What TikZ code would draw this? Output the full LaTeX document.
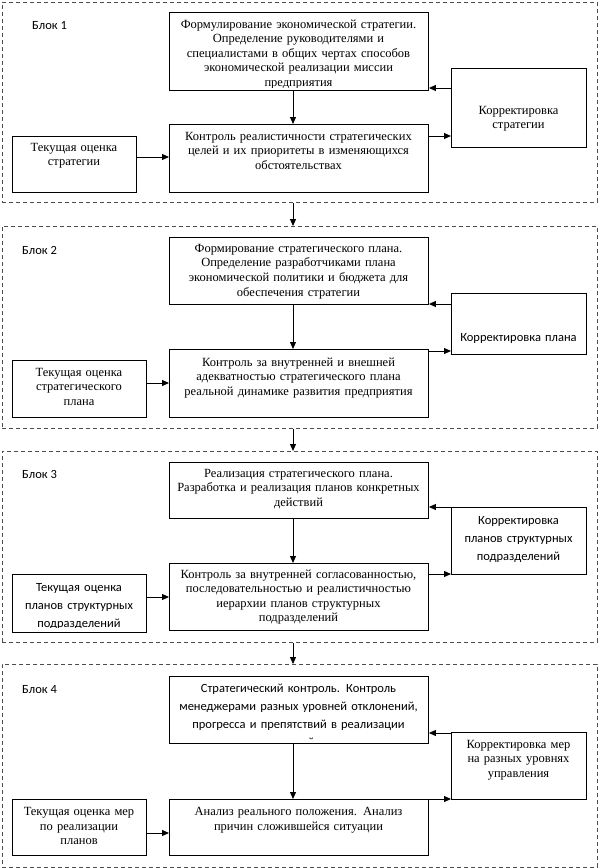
\documentclass[tikz,border=0pt]{standalone}
\usepackage{fontspec}
\setmainfont{Liberation Serif}
\newfontfamily\calibri{Carlito}
\usetikzlibrary{arrows.meta}
\begin{document}
\begin{tikzpicture}[x=1pt,y=-1pt,
  frame/.style={draw=black!70, dash pattern=on 4pt off 3pt, line width=0.8pt, rectangle, anchor=north west, inner sep=0},
  box/.style={draw=black, line width=0.9pt, rectangle, anchor=north west, inner sep=0},
  serif/.style={font=\fontsize{12.5}{14.6}\selectfont, inner sep=0, anchor=base, align=center},
  sans/.style={font=\calibri\fontsize{12.5}{18}\selectfont, inner sep=0, anchor=base, align=center},
  lbl/.style={font=\calibri\fontsize{12.5}{15}\selectfont, inner sep=0, anchor=base west},
  arr/.style={line width=1pt, -{Triangle[length=7pt,width=6pt]}},
]
\useasboundingbox (0,0) rectangle (598,868);

% ---------- Block 1 ----------
\node[frame, minimum width=595pt, minimum height=200pt] (f1) at (2,2) {};
\node[lbl] (l1) at (32,29) {Блок 1};
\node[box, minimum width=259pt, minimum height=78pt] (b1t) at (169,12) {};
\node[box, minimum width=259pt, minimum height=68pt] (b1m) at (169,124) {};
\node[box, minimum width=124pt, minimum height=56pt] (b1l) at (12,136) {};
\node[box, minimum width=135pt, minimum height=79pt] (b1r) at (451,68) {};
\begin{scope}
\clip (b1t.north west) rectangle ([yshift=3.5pt]b1t.south east);
\node[serif, text width=300pt] (b1tt) at (298.5,28) {Формулирование экономической стратегии.\\Определение руководителями и\\специалистами в общих чертах способов\\экономической реализации миссии\\предприятия};
\end{scope}
\node[serif, text width=300pt] (b1mt) at (298.5,140) {Контроль реалистичности стратегических\\целей и их приоритеты в изменяющихся\\обстоятельствах};
\node[serif, text width=160pt] (b1lt) at (74,151) {Текущая оценка\\стратегии};
\node[serif, text width=160pt] (b1rt) at (518.5,114) {Корректировка\\стратегии};
\draw[arr] (b1t.south -| 293,0) -- (b1m.north -| 293,0);
\draw[arr] (b1l.east |- 0,157) -- (b1m.west |- 0,157);
\draw[arr] (b1m.east |- 0,136) -- (b1r.west |- 0,136);
\draw[arr] (b1r.west |- 0,88) -- (b1t.east |- 0,88);

% ---------- Block 2 ----------
\node[frame, minimum width=595pt, minimum height=202pt] (f2) at (2,226) {};
\node[lbl] (l2) at (22,254) {Блок 2};
\node[box, minimum width=259pt, minimum height=67pt] (b2t) at (169,237) {};
\node[box, minimum width=259pt, minimum height=68pt] (b2m) at (169,349) {};
\node[box, minimum width=134pt, minimum height=57pt] (b2l) at (12,360) {};
\node[box, minimum width=135pt, minimum height=61pt] (b2r) at (451,293) {};
\node[serif, text width=300pt] (b2tt) at (298.5,252.3) {Формирование стратегического плана.\\Определение разработчиками плана\\экономической политики и бюджета для\\обеспечения стратегии};
\node[serif, text width=300pt] (b2mt) at (298.5,366.3) {Контроль за внутренней и внешней\\адекватностью стратегического плана\\реальной динамике развития предприятия};
\node[serif, text width=160pt] (b2lt) at (79,376.3) {Текущая оценка\\стратегического\\плана};
\node[sans, text width=160pt] (b2rt) at (518.5,341.5) {Корректировка плана};
\draw[arr] (f1.south -| 293,0) -- (f2.north -| 293,0);
\draw[arr] (b2t.south -| 293,0) -- (b2m.north -| 293,0);
\draw[arr] (b2l.east |- 0,383) -- (b2m.west |- 0,383);
\draw[arr] (b2m.east |- 0,351) -- (b2r.west |- 0,351);
\draw[arr] (b2r.west |- 0,304) -- (b2t.east |- 0,304);

% ---------- Block 3 ----------
\node[frame, minimum width=595pt, minimum height=191pt] (f3) at (2,451) {};
\node[lbl] (l3) at (22,478.7) {Блок 3};
\node[box, minimum width=259pt, minimum height=56pt] (b3t) at (169,462) {};
\node[box, minimum width=259pt, minimum height=67pt] (b3m) at (169,563) {};
\node[box, minimum width=134pt, minimum height=58pt] (b3l) at (12,574) {};
\node[box, minimum width=135pt, minimum height=67pt] (b3r) at (451,507) {};
\node[serif, text width=300pt] (b3tt) at (298.5,477.3) {Реализация стратегического плана.\\Разработка и реализация планов конкретных\\действий};
\node[serif, text width=300pt] (b3mt) at (298.5,578) {Контроль за внутренней согласованностью,\\последовательностью и реалистичностью\\иерархии планов структурных\\подразделений};
\begin{scope}
\clip (b3l.north west) rectangle ([yshift=5.5pt]b3l.south east);
\node[sans, text width=160pt] (b3lt) at (79,591.6) {Текущая оценка\\планов структурных\\подразделений};
\end{scope}
\node[sans, text width=160pt] (b3rt) at (518.5,524) {Корректировка\\планов структурных\\подразделений};
\draw[arr] (f2.south -| 293,0) -- (f3.north -| 293,0);
\draw[arr] (b3t.south -| 293,0) -- (b3m.north -| 293,0);
\draw[arr] (b3l.east |- 0,597) -- (b3m.west |- 0,597);
\draw[arr] (b3m.east |- 0,574) -- (b3r.west |- 0,574);
\draw[arr] (b3r.west |- 0,507) -- (b3t.east |- 0,507);

% ---------- Block 4 ----------
\node[frame, minimum width=595pt, minimum height=203pt] (f4) at (2,664) {};
\node[lbl] (l4) at (22,693) {Блок 4};
\node[box, minimum width=259pt, minimum height=67pt] (b4t) at (169,676) {};
\node[box, minimum width=259pt, minimum height=56pt] (b4m) at (169,799) {};
\node[box, minimum width=134pt, minimum height=56pt] (b4l) at (12,799) {};
\node[box, minimum width=135pt, minimum height=67pt] (b4r) at (451,732) {};
\begin{scope}
\clip (b4t.north west) rectangle ([yshift=4pt]b4t.south east);
\node[sans, text width=300pt] (b4tt) at (298.5,692) {Стратегический контроль. Контроль\\менеджерами разных уровней отклонений,\\прогресса и препятствий в реализации\\целей};
\end{scope}
\node[serif, text width=300pt] (b4mt) at (298.5,815.7) {Анализ реального положения. Анализ\\причин сложившейся ситуации};
\node[serif, text width=160pt] (b4lt) at (79,815.7) {Текущая оценка мер\\по реализации\\планов};
\node[serif, text width=160pt] (b4rt) at (518.5,748) {Корректировка мер\\на разных уровнях\\управления};
\draw[arr] (f3.south -| 293,0) -- (f4.north -| 293,0);
\draw[arr] (b4t.south -| 293,0) -- (b4m.north -| 293,0);
\draw[arr] (b4l.east |- 0,833) -- (b4m.west |- 0,833);
\draw[arr] (b4m.east |- 0,799) -- (b4r.west |- 0,799);
\draw[arr] (b4r.west |- 0,733) -- (b4t.east |- 0,733);
\end{tikzpicture}
\end{document}
